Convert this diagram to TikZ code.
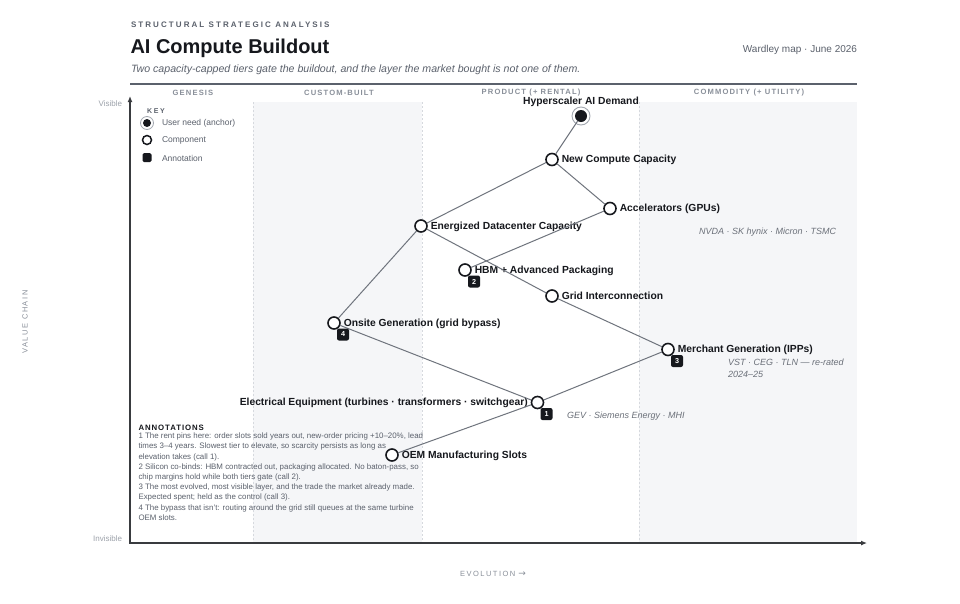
\documentclass[tikz,border=0pt]{standalone}
\usepackage{fontspec}
\setmainfont{Liberation Sans}
\newfontfamily\arrowfont{DejaVu Sans}
\usetikzlibrary{positioning, arrows.meta}
\definecolor{inkblack}{HTML}{16181D}
\definecolor{textgray}{HTML}{5B616C}
\definecolor{notegray}{HTML}{6B7079}
\definecolor{stagegray}{HTML}{8A909A}
\definecolor{lightgray}{HTML}{9DA2AA}
\definecolor{bandgray}{HTML}{F5F6F8}
\definecolor{edgegray}{HTML}{6F747D}
\definecolor{divgray}{HTML}{D6D9DE}
\definecolor{ringgray}{HTML}{A3A8B0}
\newcommand{\spaced}[1]{\addfontfeature{LetterSpace=#1}}
\newcommand{\fsize}[2]{\fontsize{#1}{#2}\selectfont}
\tikzset{
	textnode/.style={
			inner sep=0pt,
			outer sep=0pt
		},
	componentnode/.style={
			circle,
			draw=inkblack,
			line width=1.6pt,
			fill=white,
			minimum size=12pt,
			inner sep=0pt
		},
	anchornode/.style={
			circle,
			fill=inkblack,
			minimum size=12pt,
			inner sep=0pt
		},
	badgenode/.style={
			rectangle,
			rounded corners=2pt,
			fill=inkblack,
			text=white,
			font=\bfseries\fsize{7.2}{8},
			minimum size=12pt,
			inner sep=0pt
		},
	complabel/.style={
			textnode,
			font=\bfseries\fsize{10.3}{12},
			text=inkblack,
			text height=8pt,
			text depth=1.5pt
		},
	subnote/.style={
			textnode,
			font=\itshape\fsize{9}{12},
			text=notegray,
			align=left
		},
	stagenode/.style={
			textnode,
			font=\bfseries\fsize{7.6}{9}\spaced{15},
			text=stagegray
		},
	keytext/.style={
			textnode,
			font=\fsize{8.5}{10},
			text=textgray,
			anchor=west
		},
	edge/.style={
			draw=edgegray,
			line width=1pt
		},
	divider/.style={
			draw=divgray,
			line width=0.7pt,
			dash pattern=on 2pt off 2pt
		}
}

\begin{document}
\begin{tikzpicture}[x=1pt,y=-1pt]

  \useasboundingbox (0,0) rectangle (960,603);
  \fill[white] (0,0) rectangle (960,603);

  \fill[bandgray] (253,102) rectangle (422,543);
  \fill[bandgray] (639,102) rectangle (857,543);
  \draw[divider] (253,102) -- (253,543);
  \draw[divider] (422,102) -- (422,543);
  \draw[divider] (639,102) -- (639,543);

  \node[textnode, anchor=base west, font=\bfseries\fsize{8}{10}\spaced{26}, text=textgray] (kicker) at (131,27) {STRUCTURAL STRATEGIC ANALYSIS};
  \node[textnode, anchor=base west, font=\bfseries\fsize{20}{24}, text=inkblack] (title) at (130.5,53.5) {AI Compute Buildout};
  \node[textnode, anchor=base west, font=\itshape\fsize{10.6}{12}, text=textgray] (subtitle) at (131,72.5) {Two capacity-capped tiers gate the buildout, and the layer the market bought is not one of them.};
  \node[textnode, anchor=base east, font=\fsize{10}{12}, text=textgray] (mapdate) at (857,52.5) {Wardley map · June 2026};
  \draw[draw=textgray, line width=1.1pt] (130,84) -- (857,84);

  \node[stagenode] (s1) at (193,93) {GENESIS};
  \node[stagenode] (s2) at (339,93) {CUSTOM-BUILT};
  \node[stagenode] (s3) at (531,93) {PRODUCT (+ RENTAL)};
  \node[stagenode] (s4) at (749,93) {COMMODITY (+ UTILITY)};

  \coordinate (ytop) at (130,96);
  \coordinate (origin) at (130,543);
  \coordinate (xend) at (867,543);
  \draw[draw=inkblack!85, line width=1.2pt, {Latex[length=6pt,width=5pt]}-{Latex[length=6pt,width=5pt]}] (ytop) -- (origin) -- (xend);

  \node[textnode, anchor=east, font=\fsize{8}{10}, text=lightgray] (visible) at (122,104) {Visible};
  \node[textnode, anchor=east, font=\fsize{8}{10}, text=lightgray] (invisible) at (122,538.5) {Invisible};
  \node[textnode, rotate=90, font=\fsize{7.5}{9}\spaced{20}, text=stagegray] (valuechain) at (25,322) {VALUE CHAIN};
  \node[textnode, font=\fsize{7.5}{9}, text=stagegray] (evolution) at (493,574) {{\spaced{20}EVOLUTION}\hspace{3pt}{\arrowfont\fsize{9}{9}→}};

  \node[textnode, anchor=west, font=\bfseries\fsize{7}{8}\spaced{25}, text=textgray] (keyhead) at (147,111) {KEY};
  \node[anchornode, minimum size=8pt] (keyanchor) at (147,123) {};
  \draw[draw=ringgray, line width=0.8pt] (keyanchor) circle[radius=6.5pt];
  \node[componentnode, minimum size=9pt, line width=1.5pt] (keycomp) at (147,140) {};
  \node[badgenode, minimum size=9pt, rounded corners=1.5pt] (keybadge) at (147,157.5) {};
  \node[keytext] (keyt1) at (162,123) {User need (anchor)};
  \node[keytext] (keyt2) at (162,140.5) {Component};
  \node[keytext] (keyt3) at (162,158) {Annotation};

  \node[anchornode] (demand) at (581,116) {};
  \draw[draw=ringgray, line width=0.9pt] (demand) circle[radius=9pt];
  \node[componentnode] (newcompute) at (552,159.5) {};
  \node[componentnode] (accel) at (610,208.5) {};
  \node[componentnode] (energized) at (421,226) {};
  \node[componentnode] (hbm) at (465,270) {};
  \node[componentnode] (grid) at (552,296) {};
  \node[componentnode] (onsite) at (334,323) {};
  \node[componentnode] (merchant) at (668,349.5) {};
  \node[componentnode] (electrical) at (537.5,402.5) {};
  \node[componentnode] (oem) at (392,455) {};

  \node[complabel, above=4pt of demand] (ldemand) {Hyperscaler AI Demand};
  \node[complabel, right=3pt of newcompute] (lnewcompute) {New Compute Capacity};
  \node[complabel, right=3pt of accel] (laccel) {Accelerators (GPUs)};
  \node[complabel, right=3pt of energized] (lenergized) {Energized Datacenter Capacity};
  \node[complabel, right=3pt of hbm] (lhbm) {HBM + Advanced Packaging};
  \node[complabel, right=3pt of grid] (lgrid) {Grid Interconnection};
  \node[complabel, right=3pt of onsite] (lonsite) {Onsite Generation (grid bypass)};
  \node[complabel, right=3pt of merchant] (lmerchant) {Merchant Generation (IPPs)};
  \node[complabel, left=3pt of electrical] (lelectrical) {Electrical Equipment (turbines · transformers · switchgear)};
  \node[complabel, right=3pt of oem] (loem) {OEM Manufacturing Slots};

  \draw[edge] (demand) -- (newcompute);
  \draw[edge] (newcompute) -- (accel);
  \draw[edge] (newcompute) -- (energized);
  \draw[edge] (energized) -- (onsite);
  \draw[edge] (energized) -- (grid);
  \draw[edge] (accel) -- (hbm);
  \draw[edge] (grid) -- (merchant);
  \draw[edge] (onsite) -- (electrical);
  \draw[edge] (merchant) -- (electrical);
  \draw[edge] (electrical) -- (oem);

  \node[badgenode] (b1) at (546.5,414) {1};
  \node[badgenode] (b2) at (474,281.5) {2};
  \node[badgenode] (b3) at (677,361) {3};
  \node[badgenode] (b4) at (343,334.5) {4};

  \node[subnote, anchor=west] (gpunote) at (699,232) {NVDA · SK hynix · Micron · TSMC};
  \node[subnote, anchor=north west] (ippnote) at (728,359) {VST · CEG · TLN — re-rated\\2024–25};
  \node[subnote, anchor=west] (oemnote) at (567,416) {GEV · Siemens Energy · MHI};

  \node[textnode, anchor=base west, font=\bfseries\fsize{7.8}{9}\spaced{12}, text=inkblack] (notehead) at (138.5,430.5) {ANNOTATIONS};
  \node[textnode, anchor=north west, align=left, font=\fsize{7.9}{10.2}, text=textgray] (notes) at (138.5,433) {1 The rent pins here: order slots sold years out, new-order pricing +10–20\%, lead\\times 3–4 years. Slowest tier to elevate, so scarcity persists as long as\\elevation takes (call 1).\\2 Silicon co-binds: HBM contracted out, packaging allocated. No baton-pass, so\\chip margins hold while both tiers gate (call 2).\\3 The most evolved, most visible layer, and the trade the market already made.\\Expected spent; held as the control (call 3).\\4 The bypass that isn't: routing around the grid still queues at the same turbine\\OEM slots.};

\end{tikzpicture}
\end{document}
